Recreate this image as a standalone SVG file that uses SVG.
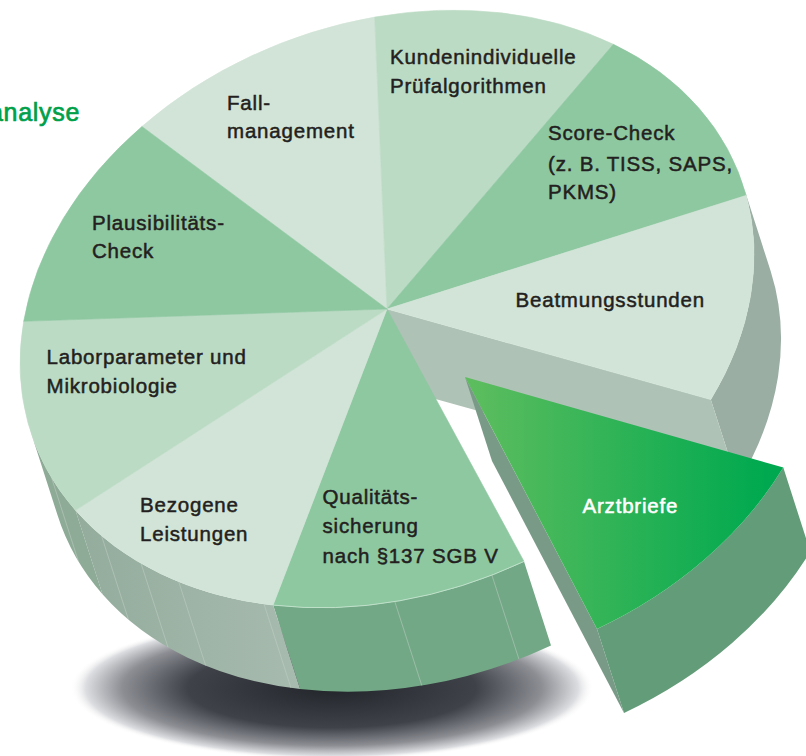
<svg xmlns="http://www.w3.org/2000/svg" width="806" height="756" viewBox="0 0 806 756">
  <defs>
    <radialGradient id="shadowGrad" cx="0.5" cy="0.5" r="0.5">
      <stop offset="0" stop-color="#22252a"/>
      <stop offset="0.55" stop-color="#3f4249"/>
      <stop offset="0.8" stop-color="#8c8e94"/>
      <stop offset="0.94" stop-color="#dcdde0"/>
      <stop offset="1" stop-color="#ffffff" stop-opacity="0"/>
    </radialGradient>
    <linearGradient id="bezSide" gradientUnits="userSpaceOnUse" x1="75" y1="0" x2="300" y2="0">
      <stop offset="0" stop-color="#93ac9c"/>
      <stop offset="1" stop-color="#a7bbaf"/>
    </linearGradient>
    <linearGradient id="arztTop" gradientUnits="userSpaceOnUse" x1="470" y1="0" x2="765" y2="0">
      <stop offset="0" stop-color="#5dbd5e"/>
      <stop offset="1" stop-color="#00a94f"/>
    </linearGradient>
    <style>
      .lbl { font-family: "Liberation Sans", Arial, Helvetica, sans-serif; font-size: 20.5px; fill: #231f20; stroke: #231f20; stroke-width: 0.5px; letter-spacing: 0.8px; }
      .wht { fill: #ffffff; stroke: #ffffff; }
      .light { fill: #d2e4d7; stroke: #d2e4d7; stroke-width: 0.6; }
      .mid { fill: #bcdbc5; stroke: #bcdbc5; stroke-width: 0.6; }
      .dark { fill: #8ec8a1; stroke: #8ec8a1; stroke-width: 0.6; }
      .facet { stroke: #c3d2c8; stroke-width: 0.7; opacity: 0.7; fill: none; }
    </style>
  </defs>

  <rect x="0" y="0" width="806" height="756" fill="#ffffff"/>

  <!-- heading fragment (cut at the left edge, as in the reference) -->
  <text x="-11" y="120.7" font-family="Liberation Sans, Arial, sans-serif" font-size="25" fill="#00a04a" stroke="#00a04a" stroke-width="0.7" letter-spacing="0.7">analyse</text>

  <!-- shadow -->
  <ellipse cx="332" cy="688" rx="262" ry="72" fill="url(#shadowGrad)"/>

  <!-- side faces of the disc -->
  <g id="sides">
    <path d="M 743.7,187.2 A 377 286 -20.6 0 1 710.8,399.6 L 737.8,483.6 A 377 286 -20.6 0 0 770.7,271.2 Z" fill="#9baea3"/>
    <path d="M 387,309 L 710.8,399.6 L 737.8,483.6 L 414,393 Z" fill="#afc2b6"/>
    <path d="M 524,561.4 A 377 286 -20.6 0 1 273.1,605.1 L 300.1,689.1 A 377 286 -20.6 0 0 551,645.4 Z" fill="#73a886"/>
    <path d="M 273.1,605.1 A 377 286 -20.6 0 1 75.5,510.3 L 102.5,594.3 A 377 286 -20.6 0 0 300.1,689.1 Z" fill="url(#bezSide)"/>
    <path d="M 75.5,510.3 A 377 286 -20.6 0 1 30.4,430.8 L 57.4,514.8 A 377 286 -20.6 0 0 102.5,594.3 Z" fill="#8eab97"/>
    <line class="facet" x1="491.9" y1="575.1" x2="518.9" y2="659.1"/>
    <line class="facet" x1="394.8" y1="601.6" x2="421.8" y2="685.6"/>
    <line class="facet" x1="264" y1="604" x2="291" y2="688"/>
    <line class="facet" x1="178.7" y1="581.6" x2="205.7" y2="665.6"/>
    <line class="facet" x1="141" y1="563.3" x2="168" y2="647.3"/>
    <line class="facet" x1="101.5" y1="535.7" x2="128.5" y2="619.7"/>
    <line class="facet" x1="51.5" y1="477.6" x2="78.5" y2="561.6"/>
  </g>

  <!-- top faces -->
  <g id="fallmanagement">
    <path class="light" d="M 387,309 L 141.9,126.5 A 377 286 -20.6 0 1 374.7,17.1 Z"/>
    <text class="lbl" x="227" y="110">Fall-</text>
    <text class="lbl" x="227" y="138">management</text>
  </g>
  <g id="kundenindividuelle">
    <path class="mid" d="M 387,309 L 374.7,17.1 A 377 286 -20.6 0 1 613.4,44.3 Z"/>
    <text class="lbl" x="390" y="64.3">Kundenindividuelle</text>
    <text class="lbl" x="390" y="92.7">Prüfalgorithmen</text>
  </g>
  <g id="score-check">
    <path class="dark" d="M 387,309 L 613.4,44.3 A 377 286 -20.6 0 1 746.1,195.4 Z"/>
    <text class="lbl" x="548" y="140">Score-Check</text>
    <text class="lbl" x="548" y="170.5">(z. B. TISS, SAPS,</text>
    <text class="lbl" x="548" y="199">PKMS)</text>
  </g>
  <g id="beatmungsstunden">
    <path class="light" d="M 387,309 L 746.1,195.4 A 377 286 -20.6 0 1 710.8,399.6 Z"/>
    <text class="lbl" x="515.5" y="306.7">Beatmungsstunden</text>
  </g>
  <g id="qualitaetssicherung">
    <path class="dark" d="M 387,309 L 524,561.4 A 377 286 -20.6 0 1 273.1,605.1 Z"/>
    <path d="M 524,561.4 A 377 286 -20.6 0 1 273.1,605.1" fill="none" stroke="#c9e6d2" stroke-width="0.8"/>
    <text class="lbl" x="322.5" y="504">Qualitäts-</text>
    <text class="lbl" x="322.5" y="533.3">sicherung</text>
    <text class="lbl" x="322.5" y="563.3">nach §137 SGB V</text>
  </g>
  <g id="bezogene-leistungen">
    <path class="light" d="M 387,309 L 273.1,605.1 A 377 286 -20.6 0 1 75.5,510.3 Z"/>
    <text class="lbl" x="140" y="511.7">Bezogene</text>
    <text class="lbl" x="140" y="540.7">Leistungen</text>
  </g>
  <g id="laborparameter">
    <path class="mid" d="M 387,309 L 75.5,510.3 A 377 286 -20.6 0 1 23.7,321.3 Z"/>
    <text class="lbl" x="46.5" y="364">Laborparameter und</text>
    <text class="lbl" x="46.5" y="392.7">Mikrobiologie</text>
  </g>
  <g id="plausibilitaets-check">
    <path class="dark" d="M 387,309 L 23.7,321.3 A 377 286 -20.6 0 1 141.9,126.5 Z"/>
    <text class="lbl" x="92" y="230">Plausibilitäts-</text>
    <text class="lbl" x="92" y="258.3">Check</text>
  </g>

  <!-- pulled-out slice -->
  <g id="arztbriefe">
    <path d="M 465,377 L 597,628.9 L 624,712.9 L 492,461 Z" fill="#7a9a88"/>
    <path d="M 783.3,467.6 A 377 286 -20.6 0 1 597,628.9 L 624,712.9 A 377 286 -20.6 0 0 810.3,551.6 Z" fill="#639c79"/>
    <path d="M 465,377 L 783.3,467.6 A 377 286 -20.6 0 1 597,628.9 Z" fill="url(#arztTop)"/>
    <text class="lbl wht" x="582.5" y="513.3">Arztbriefe</text>
  </g>
</svg>
